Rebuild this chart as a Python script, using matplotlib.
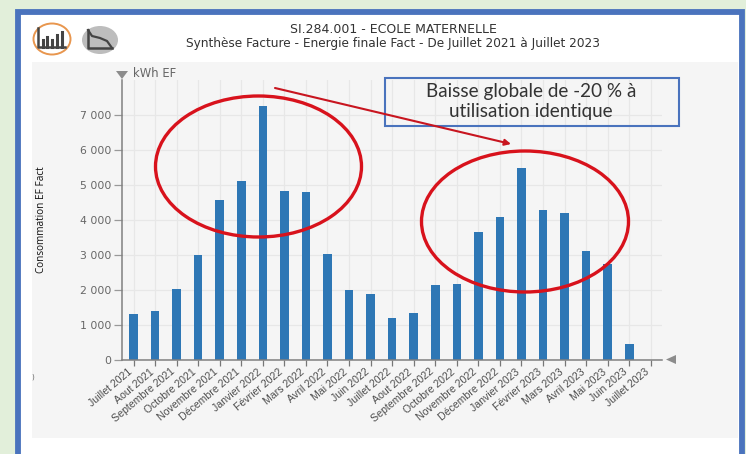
# -*- coding: utf-8 -*- #
from matplotlib import pyplot
from matplotlib.patches import Ellipse, Rectangle, Polygon
from matplotlib.transforms import ScaledTranslation

months = ["Juillet 2021", "Aout 2021", "Septembre 2021", "Octobre 2021", "Novembre 2021",
          "Décembre 2021", "Janvier 2022", "Février 2022", "Mars 2022", "Avril 2022",
          "Mai 2022", "Juin 2022", "Juillet 2022", "Aout 2022", "Septembre 2022",
          "Octobre 2022", "Novembre 2022", "Décembre 2022", "Janvier 2023", "Février 2023",
          "Mars 2023", "Avril 2023", "Mai 2023", "Juin 2023", "Juillet 2023"]
kwh = [1310, 1390, 2030, 3010, 4590, 5130, 7270, 4820, 4800, 3040, 2000, 1880, 1190,
       1330, 2150, 2170, 3670, 4090, 5500, 4280, 4190, 3120, 2750, 440, 0]
y_ticks = [0, 1000, 2000, 3000, 4000, 5000, 6000, 7000]
y_labels = ["0", "1 000", "2 000", "3 000", "4 000", "5 000", "6 000", "7 000"]

W, H = 746, 454


def draw_background(fig):
    bg = fig.add_axes([0, 0, 1, 1], zorder=0)
    bg.set_xlim(0, W)
    bg.set_ylim(H, 0)
    bg.axis("off")
    bg.add_patch(Rectangle((0, 0), W, H, fc="#e2efda", ec="none"))
    bg.add_patch(Rectangle((18, 12), 724, 460, fc="white", ec="#4a73bd", lw=4.2))
    bg.add_patch(Rectangle((32, 62), 706, 376, fc="#f5f5f5", ec="none"))
    bg.text(393.5, 29.5, "SI.284.001 - ECOLE MATERNELLE", ha="center", va="center",
            fontsize=9, color="#333333")
    bg.text(393.5, 43, "Synthèse Facture - Energie finale Fact - De Juillet 2021 à Juillet 2023",
            ha="center", va="center", fontsize=8.7, color="#333333")

    # les deux icones en haut a gauche
    bg.add_patch(Ellipse((52, 39), 37, 31, fc="none", ec="#e8964e", lw=1.4))
    bg.plot([38, 38, 65], [28, 47, 47], color="#444444", lw=1.8)
    for x, top in [(43, 40), (47, 37), (52, 40), (57, 35), (62, 32)]:
        bg.plot([x, x], [top, 47], color="#444444", lw=2.2)
    bg.add_patch(Ellipse((100, 40), 36, 28, fc="#bdbdbd", ec="none"))
    bg.plot([88, 88, 112], [30, 48, 48], color="#444444", lw=1.8)
    bg.plot([88, 92, 100, 107, 112], [30, 36, 38, 41, 48], color="#444444", lw=1.6)

    bg.text(133, 73.5, "kWh EF", ha="left", va="center", fontsize=8.4, color="#666666")
    bg.add_patch(Polygon([[116, 71], [128, 71], [122, 79]], fc="#8c8c8c", ec="none"))
    bg.add_patch(Polygon([[666, 359.5], [676, 355], [676, 364]], fc="#8c8c8c", ec="none"))
    bg.text(42, 220, "Consommation EF Fact", rotation=90, ha="center", va="center",
            fontsize=7.2, color="#111111", family="Open Sans")
    bg.text(33, 377, ")", ha="center", va="center", fontsize=5, color="#666666")


def draw_bars(fig):
    ax = fig.add_axes([122 / W, 1 - 359.7 / H, 540 / W, 279.7 / H], zorder=1)
    ax.patch.set_alpha(0)
    ax.set_axisbelow(True)
    ax.bar(range(len(months)), kwh, width=0.4, color="#2e77b5", align="center")
    ax.set_xlim(-0.534, 24.52)
    ax.set_ylim(0, 8014)

    ax.set_xticks(range(len(months)))
    ax.set_xticklabels(months, rotation=40, ha="right", rotation_mode="anchor",
                       fontsize=7.6, color="#4d4d4d", family="Liberation Sans")
    ax.set_yticks(y_ticks)
    ax.set_yticklabels(y_labels, fontsize=7.8, color="#666666")
    ax.tick_params(axis="x", length=4, width=0.9, color="#777777", pad=1)
    ax.tick_params(axis="y", length=6, width=0.9, color="#999999", pad=2)
    ax.grid(axis="both", c="#e7e7e7", lw=0.9)

    # les etiquettes finissent a gauche de leur tick (apres tick_params qui remet le transform)
    shift = ScaledTranslation(-6 / 100, 0, fig.dpi_scale_trans)
    for label in ax.get_xticklabels():
        label.set_transform(label.get_transform() + shift)

    for side in ["top", "right"]:
        ax.spines[side].set_visible(False)
    ax.spines["left"].set_color("#808080")
    ax.spines["left"].set_linewidth(1.1)
    ax.spines["bottom"].set_color("#808080")
    ax.spines["bottom"].set_linewidth(1.1)


def draw_overlay(fig):
    top = fig.add_axes([0, 0, 1, 1], zorder=2)
    top.set_xlim(0, W)
    top.set_ylim(H, 0)
    top.axis("off")
    top.patch.set_alpha(0)
    top.add_patch(Ellipse((258.5, 166.5), 206, 141, fc="none", ec="#d8121c", lw=2.4))
    top.add_patch(Ellipse((525, 221.5), 207, 141, fc="none", ec="#d8121c", lw=2.4))
    top.annotate("", xy=(511, 144), xytext=(275, 88),
                 arrowprops=dict(arrowstyle="-|>", color="#c8151f", lw=1.5,
                                 mutation_scale=9, shrinkA=0, shrinkB=0))
    top.add_patch(Rectangle((385, 78), 294, 47.5, fc="none", ec="#4a73bd", lw=1.5))
    top.text(531, 91.5, "Baisse globale de -20 % à", ha="center", va="center",
             fontsize=13.6, color="#333333", family="Lato")
    top.text(531, 111.5, "utilisation identique", ha="center", va="center",
             fontsize=13.6, color="#333333", family="Lato")


def main():
    fig = pyplot.figure(figsize=[W / 100, H / 100], dpi=100)
    draw_background(fig)
    draw_bars(fig)
    draw_overlay(fig)
    fig.savefig("out.png", dpi=100)


if __name__ == '__main__':
    main()
